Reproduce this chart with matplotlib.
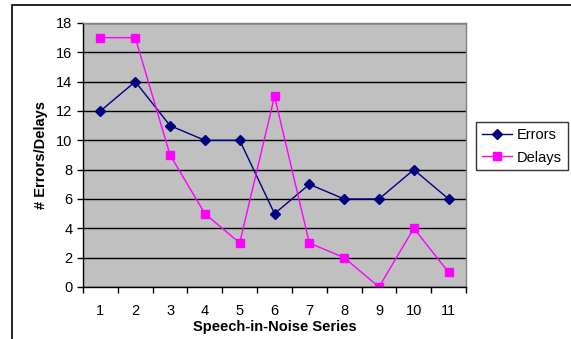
import matplotlib.pyplot as plt
from matplotlib.patches import Rectangle

plt.rcParams['font.family'] = ['Liberation Sans', 'DejaVu Sans']

# Data
series = [1, 2, 3, 4, 5, 6, 7, 8, 9, 10, 11]
errors = [12, 14, 11, 10, 10, 5, 7, 6, 6, 8, 6]
delays = [17, 17, 9, 5, 3, 13, 3, 2, 0, 4, 1]

fig = plt.figure(figsize=(5.71, 3.39), dpi=100)
ax = fig.add_axes([0.1454, 0.1534, 0.6708, 0.7788])

# outer chart border
fig.patches.append(Rectangle((12 / 571, -0.1), 1.0, 1.1 - 5 / 339, transform=fig.transFigure,
                             fill=False, edgecolor='black', linewidth=1.2))

ax.set_facecolor('#c0c0c0')
ax.plot(series, errors, color='#000080', marker='D', markersize=5, linewidth=1, label='Errors')
ax.plot(series, delays, color='#ff00ff', marker='s', markersize=5.5, linewidth=1, label='Delays')

ax.set_xlim(0.5, 11.5)
ax.set_ylim(0, 18)
ax.set_yticks(range(0, 19, 2))
ax.set_xticks(series)
ax.set_xticks([i + 0.5 for i in range(0, 12)], minor=True)
ax.tick_params(axis='x', which='major', length=0, pad=12, labelsize=10.5)
ax.tick_params(axis='x', which='minor', length=4, direction='out', width=1)
ax.tick_params(axis='y', length=4, direction='out', width=1, labelsize=10.5)
ax.yaxis.grid(True, color='black', linewidth=1)
ax.set_axisbelow(True)

for s in ['top', 'right']:
    ax.spines[s].set_color('#808080')
    ax.spines[s].set_linewidth(1)
ax.spines['left'].set_linewidth(1)
ax.spines['bottom'].set_linewidth(1)

ax.set_xlabel('Speech-in-Noise Series', fontweight='bold', fontsize=10.5, labelpad=2)
ax.set_ylabel('# Errors/Delays', fontweight='bold', fontsize=10.5, labelpad=6)

leg = ax.legend(loc='upper left', bbox_to_anchor=(476 / 571, 1 - 122 / 339), bbox_transform=fig.transFigure,
                fontsize=10.5, frameon=True, fancybox=False, edgecolor='black', borderpad=0.4,
                handlelength=2.1, labelspacing=0.6, handletextpad=0.3, borderaxespad=0)
leg.get_frame().set_linewidth(1)

plt.savefig('out.png', dpi=100)
